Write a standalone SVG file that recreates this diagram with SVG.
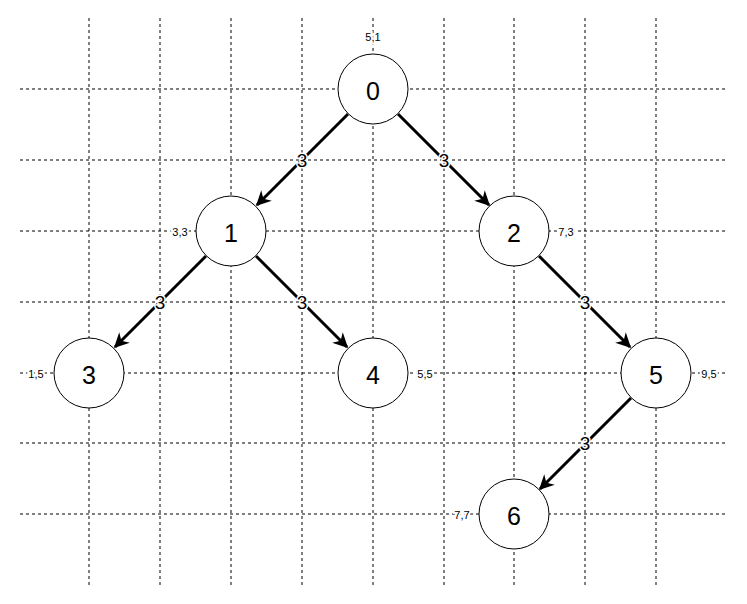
<svg xmlns="http://www.w3.org/2000/svg" width="747" height="604" viewBox="0 0 747 604">
<defs>
<style>
.g{stroke:#000;stroke-width:1;stroke-dasharray:3 3;fill:none}
.n circle{fill:#fff;stroke:#000;stroke-width:1}
.n text{font-family:"Liberation Sans",Arial,sans-serif;font-size:25px;text-anchor:middle;dominant-baseline:central}
.c{font-family:"Liberation Sans",Arial,sans-serif;font-size:11px;text-anchor:middle;dominant-baseline:central;paint-order:stroke;stroke:#fff;stroke-width:4}
.e line{stroke:#000;stroke-width:3;marker-end:url(#a)}
.e text{font-family:"Liberation Sans",Arial,sans-serif;font-size:19px;text-anchor:middle;dominant-baseline:central;paint-order:stroke;stroke:#fff;stroke-width:3}
</style>
<marker id="a" viewBox="0 0 10 10" refX="9" refY="5" markerWidth="5" markerHeight="5" orient="auto" markerUnits="strokeWidth"><path d="M0,0 L10,5 L0,10 L3,5 Z" fill="#000"/></marker>
</defs>
<rect width="747" height="604" fill="#fff"/>
<g id="grid" class="g">
<path d="M89 18V585M160 18V585M231 18V585M302 18V585M373 18V585M444 18V585M514 18V585M585 18V585M656 18V585"/>
<path d="M20 89H727M20 160H727M20 231H727M20 302H727M20 373H727M20 443H727M20 514H727"/>
</g>
<g id="connectors" class="e">
<line x1="348" y1="114" x2="257" y2="205"/><text x="302" y="160">3</text>
<line x1="398" y1="114" x2="489" y2="205"/><text x="444" y="160">3</text>
<line x1="206" y1="256" x2="115" y2="347"/><text x="160" y="302">3</text>
<line x1="256" y1="256" x2="347" y2="347"/><text x="302" y="302">3</text>
<line x1="539" y1="256" x2="630" y2="347"/><text x="585" y="302">3</text>
<line x1="631" y1="398" x2="540" y2="489"/><text x="585" y="443">3</text>
</g>
<g id="node0" class="n"><circle cx="373" cy="89" r="35"/><text x="373" y="91">0</text><text class="c" x="373" y="37" style="font-size:11px">5,1</text></g>
<g id="node1" class="n"><circle cx="231" cy="231" r="35"/><text x="231" y="233">1</text><text class="c" x="180" y="232" style="font-size:11px">3,3</text></g>
<g id="node2" class="n"><circle cx="514" cy="231" r="35"/><text x="514" y="233">2</text><text class="c" x="566" y="232" style="font-size:11px">7,3</text></g>
<g id="node3" class="n"><circle cx="89" cy="373" r="35"/><text x="89" y="375">3</text><text class="c" x="36" y="374" style="font-size:11px">1,5</text></g>
<g id="node4" class="n"><circle cx="373" cy="373" r="35"/><text x="373" y="375">4</text><text class="c" x="425" y="374" style="font-size:11px">5,5</text></g>
<g id="node5" class="n"><circle cx="656" cy="373" r="35"/><text x="656" y="375">5</text><text class="c" x="709" y="374" style="font-size:11px">9,5</text></g>
<g id="node6" class="n"><circle cx="514" cy="514" r="35"/><text x="514" y="516">6</text><text class="c" x="462" y="515" style="font-size:11px">7,7</text></g>
</svg>
